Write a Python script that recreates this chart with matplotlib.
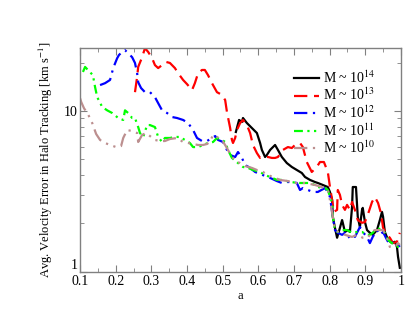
import matplotlib
matplotlib.use("Agg")
import matplotlib.pyplot as plt
from matplotlib.ticker import FixedLocator, NullFormatter, FixedFormatter, LogLocator

plt.rcParams['font.family'] = ['Liberation Serif', 'DejaVu Serif']
plt.rcParams['mathtext.fontset'] = 'stix'

# M ~ 10^14
a_14 = [0.537, 0.546, 0.554, 0.557, 0.568, 0.582, 0.596, 0.605, 0.610, 0.619, 0.624, 0.633,
        0.647, 0.655, 0.666, 0.680, 0.694, 0.708, 0.722, 0.731, 0.745, 0.759, 0.767, 0.781,
        0.795, 0.801, 0.807, 0.809, 0.815, 0.821, 0.829, 0.835, 0.837, 0.843, 0.851, 0.857,
        0.863, 0.865, 0.874, 0.879, 0.885, 0.891, 0.893, 0.899, 0.905, 0.913, 0.921, 0.933,
        0.941, 0.947, 0.950, 0.955, 0.964, 0.975, 0.983, 0.989, 0.992, 0.997]
v_14 = [7.41, 8.80, 8.55, 9.05, 8.42, 7.84, 7.30, 6.33, 5.73, 5.18, 5.33, 5.73,
        6.15, 5.73, 5.18, 4.75, 4.49, 4.30, 4.12, 3.89, 3.73, 3.62, 3.57, 3.47,
        3.37, 3.14, 2.80, 2.20, 1.88, 1.63, 1.88, 2.10, 2.02, 1.77, 1.82, 1.77,
        2.53, 3.37, 3.37, 2.20, 1.90, 2.43, 2.50, 2.05, 1.82, 1.75, 1.70, 1.82,
        2.10, 2.36, 2.20, 1.77, 1.58, 1.51, 1.54, 1.43, 1.24, 1.06]

# M ~ 10^13
a_13 = [0.254, 0.260, 0.263, 0.274, 0.282, 0.291, 0.302, 0.310, 0.319, 0.330, 0.341, 0.352,
        0.366, 0.375, 0.389, 0.400, 0.414, 0.422, 0.431, 0.442, 0.450, 0.459, 0.470, 0.484,
        0.498, 0.507, 0.512, 0.521, 0.526, 0.529, 0.535, 0.540, 0.549, 0.557, 0.568, 0.577,
        0.585, 0.596, 0.605, 0.613, 0.627, 0.638, 0.647, 0.655, 0.669, 0.683, 0.694, 0.703,
        0.717, 0.725, 0.736, 0.750, 0.764, 0.773, 0.784, 0.795, 0.801, 0.807, 0.812, 0.821,
        0.823, 0.829, 0.835, 0.843, 0.849, 0.857, 0.863, 0.871, 0.879, 0.891, 0.899, 0.907,
        0.919, 0.927, 0.936, 0.944, 0.950, 0.961, 0.969, 0.978, 0.989, 0.997]
v_13 = [13.1, 16.3, 18.8, 21.6, 24.6, 23.3, 21.3, 19.3, 18.5, 19.3, 20.2, 19.9,
        18.5, 17.2, 15.6, 14.7, 13.5, 14.9, 17.2, 18.0, 18.0, 16.7, 14.9, 13.1,
        12.6, 11.7, 9.86, 7.84, 6.61, 6.33, 6.80, 7.62, 8.42, 8.80, 8.18, 7.30,
        6.15, 5.48, 5.11, 5.18, 5.18, 5.11, 5.11, 5.18, 5.73, 5.97, 5.89, 6.15,
        6.33, 5.97, 4.82, 4.18, 4.49, 4.82, 4.82, 4.18, 3.37, 2.80, 2.36, 2.43,
        3.23, 3.01, 2.61, 2.43, 2.61, 2.43, 2.72, 2.43, 2.10, 2.02, 2.04, 2.26,
        2.72, 2.92, 2.68, 2.32, 1.88, 1.70, 1.63, 1.51, 1.54, 1.75]

# M ~ 10^12
a_12 = [0.156, 0.170, 0.184, 0.190, 0.195, 0.204, 0.209, 0.218, 0.226, 0.235, 0.246, 0.254,
        0.260, 0.263, 0.271, 0.282, 0.296, 0.310, 0.319, 0.330, 0.344, 0.358, 0.372, 0.389,
        0.403, 0.417, 0.428, 0.442, 0.456, 0.470, 0.479, 0.487, 0.501, 0.512, 0.521, 0.535,
        0.543, 0.554, 0.563, 0.577, 0.591, 0.605, 0.619, 0.633, 0.652, 0.666, 0.680, 0.694,
        0.708, 0.717, 0.725, 0.739, 0.753, 0.767, 0.787, 0.795, 0.801, 0.809, 0.815, 0.823,
        0.835, 0.843, 0.851, 0.863, 0.871, 0.885, 0.893, 0.905, 0.913, 0.921, 0.933, 0.941,
        0.950, 0.961, 0.969, 0.978, 0.989, 0.997]
v_12 = [14.5, 14.9, 15.6, 17.5, 19.0, 21.3, 22.3, 23.3, 23.9, 22.9, 21.6, 19.9,
        17.2, 15.1, 13.9, 13.1, 13.1, 12.2, 11.2, 10.1, 9.72, 9.18, 9.05, 8.80,
        8.42, 7.62, 6.80, 6.51, 6.51, 6.80, 6.99, 6.61, 6.42, 5.73, 5.33, 5.18,
        5.56, 5.11, 4.62, 4.43, 4.18, 4.06, 3.95, 3.84, 3.67, 3.57, 3.62, 3.62,
        3.57, 3.23, 3.32, 3.23, 3.14, 3.14, 3.32, 3.14, 2.92, 2.20, 1.82, 1.75,
        1.70, 1.75, 1.63, 1.70, 1.65, 1.90, 1.77, 1.65, 1.51, 1.65, 1.82, 1.70,
        1.77, 1.58, 1.47, 1.54, 1.51, 1.43]

# M ~ 10^11
a_11 = [0.108, 0.114, 0.122, 0.136, 0.142, 0.148, 0.162, 0.176, 0.190, 0.207, 0.221, 0.226,
        0.235, 0.246, 0.254, 0.263, 0.268, 0.277, 0.288, 0.296, 0.310, 0.319, 0.330, 0.338,
        0.352, 0.366, 0.380, 0.394, 0.408, 0.417, 0.431, 0.445, 0.459, 0.473, 0.484, 0.498,
        0.507, 0.515, 0.526, 0.543, 0.557, 0.571, 0.585, 0.605, 0.619, 0.633, 0.652, 0.669,
        0.689, 0.717, 0.745, 0.759, 0.767, 0.787, 0.795, 0.807, 0.809, 0.815, 0.823, 0.835,
        0.849, 0.863, 0.877, 0.891, 0.905, 0.913, 0.921, 0.933, 0.947, 0.955, 0.964, 0.975,
        0.983, 0.992, 0.997]
v_11 = [17.5, 18.8, 18.0, 16.7, 14.1, 12.2, 10.6, 10.1, 9.72, 9.05, 8.80, 10.1,
        9.72, 9.05, 9.05, 7.95, 7.30, 6.90, 8.18, 8.18, 7.95, 6.90, 6.42, 6.80,
        6.80, 6.90, 6.90, 6.61, 6.33, 5.97, 5.97, 6.15, 6.33, 6.42, 6.80, 6.61,
        6.42, 5.73, 5.11, 4.75, 4.49, 4.43, 4.30, 4.18, 4.00, 3.89, 3.73, 3.73,
        3.62, 3.57, 3.57, 3.47, 3.37, 3.32, 3.23, 2.68, 2.20, 1.82, 1.77, 1.82,
        1.82, 1.75, 1.77, 1.77, 1.70, 1.70, 1.75, 1.88, 1.82, 1.75, 1.58, 1.51,
        1.47, 1.43, 1.43]

# M ~ 10^10
a_10 = [0.100, 0.103, 0.111, 0.122, 0.134, 0.145, 0.156, 0.170, 0.184, 0.201, 0.215, 0.221,
        0.232, 0.246, 0.260, 0.263, 0.274, 0.285, 0.296, 0.310, 0.324, 0.338, 0.352, 0.372,
        0.389, 0.403, 0.417, 0.431, 0.445, 0.456, 0.464, 0.473, 0.484, 0.498, 0.512, 0.521,
        0.535, 0.549, 0.563, 0.582, 0.596, 0.613, 0.627, 0.641, 0.661, 0.683, 0.703, 0.731,
        0.759, 0.778, 0.795, 0.801, 0.809, 0.815, 0.829, 0.843, 0.863, 0.877, 0.893, 0.907,
        0.919, 0.927, 0.936, 0.950, 0.961, 0.969, 0.983, 0.992, 0.997]
v_10 = [12.0, 11.4, 10.4, 9.58, 8.42, 7.20, 6.61, 6.33, 6.15, 5.97, 6.06, 6.80,
        7.62, 7.51, 7.30, 6.42, 7.10, 7.30, 6.99, 6.61, 6.51, 6.51, 6.70, 6.80,
        6.42, 6.33, 6.24, 6.15, 6.15, 6.24, 6.42, 7.10, 6.90, 6.61, 5.89, 5.41,
        4.89, 4.75, 4.55, 4.43, 4.30, 4.18, 4.00, 3.89, 3.73, 3.67, 3.57, 3.57,
        3.47, 3.37, 3.23, 2.80, 2.20, 1.82, 1.75, 1.70, 1.65, 1.70, 1.63, 1.63,
        1.77, 1.82, 1.82, 1.82, 1.63, 1.43, 1.43, 1.51, 1.47]

labels = [r'M ~ 10$^{14}$', r'M ~ 10$^{13}$', r'M ~ 10$^{12}$', r'M ~ 10$^{11}$', r'M ~ 10$^{10}$']

fig = plt.figure(figsize=(4.15, 3.21), dpi=100)
ax = fig.add_axes([0.193, 0.153, 0.773, 0.697])

ax.plot(a_14, v_14, color='black', lw=1.6, ls='-', label=labels[0])
ax.plot(a_13, v_13, color='red', lw=1.6, ls=(0, (6, 3)), label=labels[1])
ax.plot(a_12, v_12, color='blue', lw=1.6, ls=(0, (6, 2.5, 1, 2.5)), label=labels[2])
ax.plot(a_11, v_11, color='#00ff00', lw=1.6, ls=(0, (4, 2, 1, 2, 1, 2)), label=labels[3])
ax.plot(a_10, v_10, color='#bc8f8f', lw=1.6, ls=(0, (6, 2.5, 1, 2.5, 1, 2.5)), label=labels[4])

ax.set_yscale('log')
ax.set_xlim(0.1, 1.0)
ax.set_ylim(1, 24.6)

ax.xaxis.set_major_locator(FixedLocator([0.1, 0.2, 0.3, 0.4, 0.5, 0.6, 0.7, 0.8, 0.9, 1.0]))
ax.xaxis.set_major_formatter(FixedFormatter(['0.1', '0.2', '0.3', '0.4', '0.5', '0.6', '0.7', '0.8', '0.9', '1']))
ax.xaxis.set_minor_locator(FixedLocator([0.15, 0.25, 0.35, 0.45, 0.55, 0.65, 0.75, 0.85, 0.95]))
ax.yaxis.set_major_locator(FixedLocator([1, 10]))
ax.yaxis.set_major_formatter(FixedFormatter(['1', '10']))
ax.yaxis.set_minor_locator(LogLocator(base=10, subs=range(2, 10)))
ax.yaxis.set_minor_formatter(NullFormatter())

for s in ax.spines.values():
    s.set_color('0.5')
    s.set_linewidth(1.0)
ax.tick_params(which='both', direction='in', top=True, right=True, colors='0.5',
               labelcolor='black', labelsize=10, pad=2)
ax.tick_params(which='major', length=5)
ax.tick_params(which='minor', length=3)

# nudge the "1" label up a little, as in the reference
ax.get_yticklabels()[0].set_verticalalignment('bottom')

ax.set_xlabel('a', fontsize=9, labelpad=2)
ax.set_ylabel(r'Avg. Velocity Error in Halo Tracking [km s$^{-1}$]', fontsize=9, labelpad=6)

ax.legend(loc='upper left', bbox_to_anchor=(0.648, 0.93), frameon=False, fontsize=10,
          handlelength=1.8, handletextpad=0.3, labelspacing=0.08, borderaxespad=0)

fig.savefig('out.png', dpi=100)
